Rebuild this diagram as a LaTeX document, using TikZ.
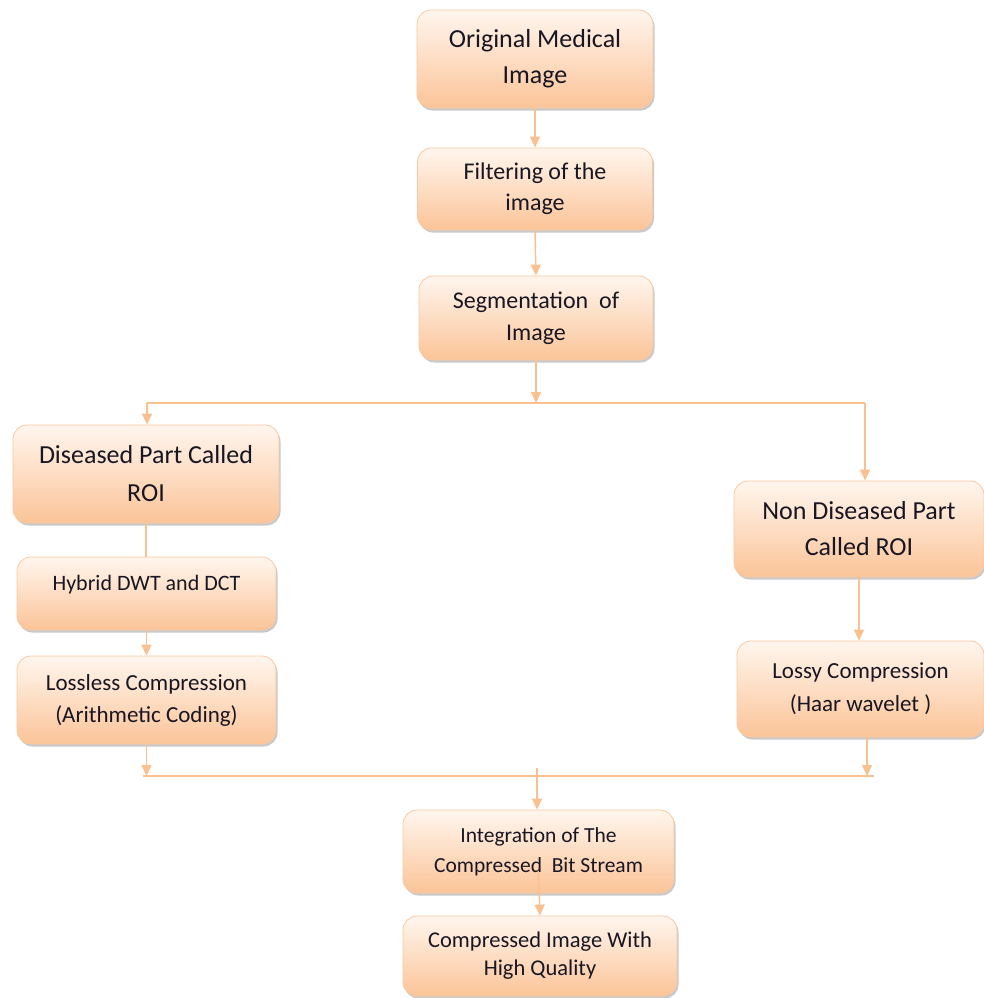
\documentclass[tikz,border=0pt]{standalone}
\usepackage{fontspec}
\setmainfont{Carlito}
\usetikzlibrary{arrows.meta,shadows}

\definecolor{linecolor}{RGB}{250,192,143}
\definecolor{boxline}{RGB}{250,200,160}
\definecolor{boxtop}{RGB}{255,246,238}
\definecolor{boxbottom}{RGB}{251,196,152}
\definecolor{textcolor}{RGB}{25,22,35}

\begin{document}
\begin{tikzpicture}[%
        % one unit is one pixel of the page, y runs down
        x=1pt,y=-1pt,
        stage/.style={draw=boxline, line width=0.8pt, rounded corners=14pt,
            top color=boxtop, bottom color=boxbottom, text=textcolor,
            align=center, inner sep=0pt,
            drop shadow={shadow xshift=1.5pt, shadow yshift=-2.5pt, opacity=0.3, fill=black!70}},
        wire/.style={draw=linecolor, line width=1.4pt},
        flow/.style={wire, -{Triangle[width=10pt,length=11pt]}},
        ]

        \useasboundingbox (0,0) rectangle (984,998);

        % main column
        \node[stage, minimum width=236, minimum height=98, font=\fontsize{26}{36}\selectfont]
            (orig) at (535,59) {Original Medical\\Image};
        \node[stage, minimum width=235, minimum height=82, font=\fontsize{24}{31}\selectfont]
            (filt) at (535,189) {Filtering of the\\image};
        \node[stage, minimum width=234, minimum height=84, font=\fontsize{24}{32}\selectfont]
            (seg) at (536,318) {Segmentation\ \ of\\Image};

        % left branch
        \node[stage, minimum width=266, minimum height=98, font=\fontsize{26}{38}\selectfont]
            (roi) at (146,474) {Diseased Part Called\\ROI};
        \node[stage, minimum width=259, minimum height=73, text depth=22pt, font=\fontsize{22}{30}\selectfont]
            (hybrid) at (146.5,593.5) {Hybrid DWT and DCT};
        \node[stage, minimum width=259, minimum height=88, font=\fontsize{23}{32}\selectfont]
            (lossless) at (146.5,700) {Lossless Compression\\(Arithmetic Coding)};

        % right branch
        \node[stage, minimum width=250, minimum height=96, font=\fontsize{26}{36}\selectfont]
            (nonroi) at (859,529) {Non Diseased Part\\Called ROI};
        \node[stage, minimum width=247, minimum height=96, font=\fontsize{23}{33}\selectfont]
            (lossy) at (860.5,689) {Lossy Compression\\(Haar wavelet )};

        % bottom column
        \node[stage, minimum width=271, minimum height=83, font=\fontsize{21.5}{30}\selectfont]
            (integ) at (538.5,851.5) {Integration of The\\Compressed\ \ Bit Stream};
        \node[stage, minimum width=274, minimum height=80, font=\fontsize{22.5}{28}\selectfont]
            (final) at (540,956) {Compressed Image With\\High Quality};

        % split and join points
        \coordinate (split) at (536,403);
        \coordinate (splitL) at (147,403);
        \coordinate (splitR) at (865,403);
        \coordinate (joinL) at (143,776);
        \coordinate (joinR) at (874,776);
        \coordinate (joinM) at (537,768);

        % connectors
        \draw[flow] (orig.south) -- (filt.north);
        \draw[flow] (filt.south) -- (seg.north);
        \draw[flow] (seg.south) -- (split);
        \draw[wire] (splitL) -- (splitR);
        \draw[flow] (splitL) -- (splitL |- roi.north);
        \draw[flow] (splitR) -- (splitR |- nonroi.north);
        \draw[wire] (roi.south) -- (roi.south |- hybrid.north);
        \draw[flow] (hybrid.south) -- (lossless.north);
        \draw[flow] (nonroi.south) -- (nonroi.south |- lossy.north);
        \draw[flow] (lossless.south) -- (lossless.south |- joinL);
        \draw[flow] ([xshift=6.5pt]lossy.south) -- ([xshift=6.5pt]lossy.south |- joinR);
        \draw[wire] (joinL) -- (joinR);
        \draw[flow] (joinM) -- (joinM |- integ.north);
        \draw[flow] ([yshift=21pt]integ.south) -- (final.north);

\end{tikzpicture}
\end{document}
